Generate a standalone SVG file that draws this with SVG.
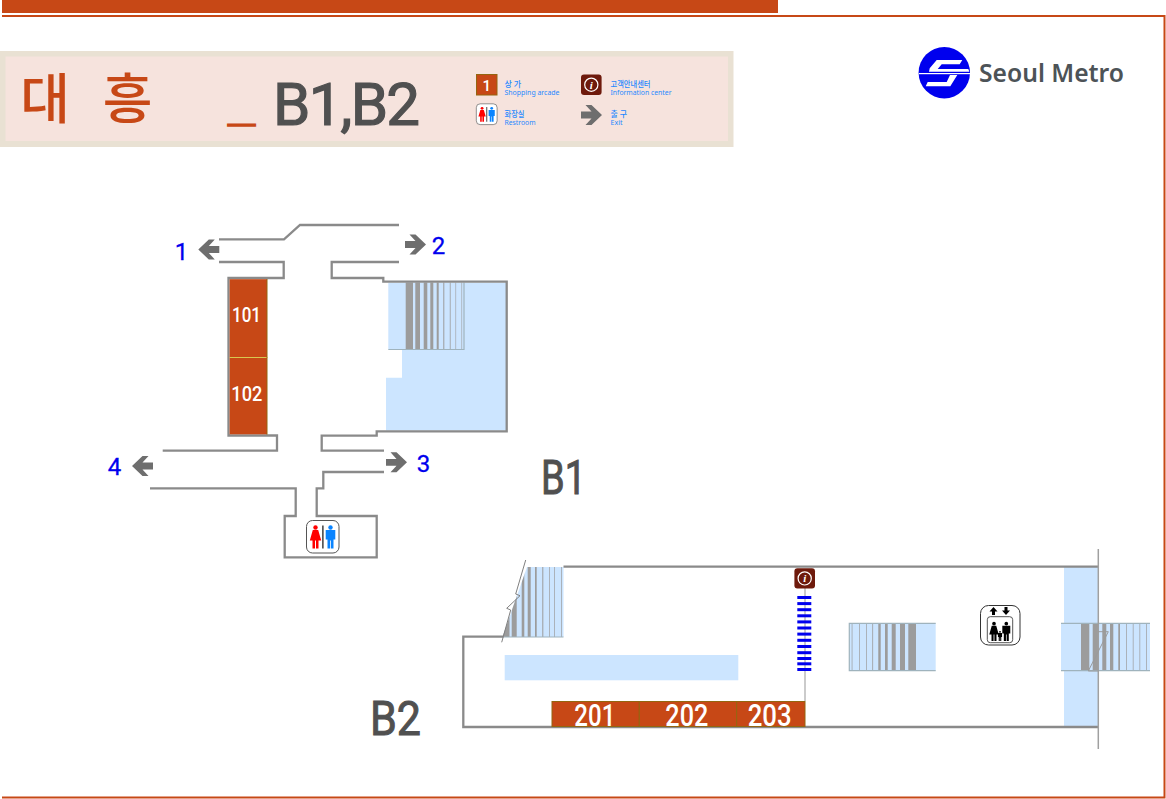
<svg xmlns="http://www.w3.org/2000/svg" width="1166" height="799" viewBox="0 0 1166 799">
<style>
.wall{fill:none;stroke:#8a8a8a;stroke-width:2.300}
.thin{fill:none;stroke:#9a9a9a;stroke-width:1}
.blue{fill:#cce5ff}
.bar{fill:#9c9c9c}
.edge{fill:none;stroke:#9fb3bd;stroke-width:1.200}
.shop{fill:#c74816;stroke:#94650f;stroke-width:1}
.shoptext{font-family:Roboto,"Liberation Sans",sans-serif;font-weight:500;fill:#fff;text-anchor:middle}
.num{font-family:Roboto,"Liberation Sans",sans-serif;fill:#0000ee;stroke:#0000ee;stroke-width:.3;font-size:24px;text-anchor:middle}
.floor{font-family:Roboto,"Liberation Sans",sans-serif;fill:#505050;stroke:#505050;stroke-width:1;font-size:48px}
.leg{font-family:"Noto Sans","Noto Sans CJK KR",sans-serif;fill:#1e88ff;font-size:7px}
.legk{font-family:"Noto Sans CJK KR",sans-serif;fill:#1e88ff;font-size:8px;font-weight:500}
.arrow{fill:#6e6e6e}
</style>
<defs>
<g id="woman"><circle cx="0" cy="2" r="2.200"/><path d="M-2.700 4.600H2.700L5.700 15H3V23H.5V15H-.5V23H-3V15H-5.700Z"/></g>
<g id="man"><circle cx="0" cy="2" r="2.200"/><path d="M-4.800 4.600H4.800V14H3V23H.4V15H-.4V23H-3V14H-4.800Z"/></g>
<g id="wc"><rect x=".5" y=".5" width="32.500" height="32.500" rx="6" fill="#fff" stroke="#555" stroke-width="1"/><use href="#woman" x="9.500" y="5.500" fill="#ff0000"/><use href="#man" x="24.500" y="5.500" fill="#0a84ff"/><rect x="16.300" y="5.500" width="1.200" height="23" fill="#111"/></g>
<g id="info"><rect x="0" y="0" width="20.600" height="20.400" rx="3" fill="#6e1a0c"/><circle cx="10.300" cy="10.200" r="6.600" fill="none" stroke="#fff" stroke-width="1.200"/><text x="10.300" y="14" font-family="Liberation Serif,serif" font-style="italic" font-weight="bold" font-size="11" fill="#fff" text-anchor="middle">i</text></g>
<path id="arrR" d="M0 -3.400H10.500L4.500 -10H10.500L21 0L10.500 10H4.500L10.500 3.400H0Z"/>
<clipPath id="leftStair"><path d="M527 567H563.500V637H502.500Z"/></clipPath>
</defs>

<g id="frame">
<rect x="2" y="0" width="776" height="13" fill="#c74816"/>
<path d="M2 16H1164.500V797.500H2" fill="none" stroke="#c74816" stroke-width="2"/>
</g>

<g id="title">
<rect x="0" y="51" width="733.500" height="96" fill="#e9e1d3"/>
<rect x="5.500" y="56.500" width="722.500" height="84.500" fill="#f6e3dd"/>
<text x="45" y="119" font-family="Noto Sans CJK KR,sans-serif" font-weight="500" font-size="54" fill="#c74816" text-anchor="middle">대</text>
<text x="127.500" y="119" font-family="Noto Sans CJK KR,sans-serif" font-weight="500" font-size="54" fill="#c74816" text-anchor="middle">흥</text>
<text x="228.300" y="120" font-family="Liberation Sans,sans-serif" font-size="48" font-weight="bold" fill="#c74816" stroke="#c74816" stroke-width="1.500" textLength="26.700" lengthAdjust="spacingAndGlyphs">_</text>
<text x="273" y="125" font-family="Roboto,Liberation Sans,sans-serif" font-size="60" fill="#505050" stroke="#505050" stroke-width="1.200" textLength="147" lengthAdjust="spacing">B1,B2</text>
</g>

<g id="legend">
<rect class="shop" x="476.500" y="74.500" width="20.500" height="20.500"/>
<text class="shoptext" x="486.700" y="90.500" font-size="15">1</text>
<text class="legk" x="504.500" y="86.500">상 가</text>
<text class="leg" x="504.500" y="94.500" textLength="55" lengthAdjust="spacingAndGlyphs">Shopping arcade</text>
<use href="#wc" transform="translate(476 103.500) scale(.64)"/>
<text class="legk" x="504.500" y="116.500" textLength="20" lengthAdjust="spacingAndGlyphs">화장실</text>
<text class="leg" x="504.500" y="125" textLength="31" lengthAdjust="spacingAndGlyphs">Restroom</text>
<use href="#info" x="581" y="74.500"/>
<text class="legk" x="610.500" y="86.500" textLength="40" lengthAdjust="spacingAndGlyphs">고객안내센터</text>
<text class="leg" x="610.500" y="94.500" textLength="61" lengthAdjust="spacingAndGlyphs">Information center</text>
<use href="#arrR" class="arrow" x="581" y="115"/>
<text class="legk" x="610.500" y="116.500">출 구</text>
<text class="leg" x="610.500" y="125" textLength="12" lengthAdjust="spacingAndGlyphs">Exit</text>
</g>

<g id="logo">
<circle cx="944.300" cy="72.700" r="25.700" fill="#0000ee"/>
<path d="M936.700 60H962.300L959.700 64.300H941.700L937.700 69H968.300L969.300 71.700H929L929.700 68.300Z" fill="#fff"/>
<rect x="919" y="73" width="51" height="1.200" fill="#fff"/>
<path d="M950 75H957.300L950.300 86.300H925.700L927.700 82H946.700Z" fill="#fff"/>
<text x="979" y="82" font-family="Noto Sans,sans-serif" font-weight="600" font-size="25" fill="#4d5357" textLength="145" lengthAdjust="spacingAndGlyphs">Seoul Metro</text>
</g>

<g id="floor-b1">
<path class="blue" d="M388.300 282.700H506V430.500H386V377.700H402V349.300H388.300Z"/>
<g id="b1-stairs">
<rect class="bar" x="405.700" y="282.500" width="7.300" height="67"/>
<rect class="bar" x="415.300" y="282.500" width="4.700" height="67"/>
<rect class="bar" x="423.700" y="282.500" width="3.600" height="67"/>
<rect class="bar" x="430.300" y="282.500" width="3" height="67"/>
<rect class="bar" x="436.700" y="282.500" width="2" height="67"/>
<rect class="bar" x="443.300" y="282.500" width="1" height="67"/>
<rect class="bar" x="449.800" y="282.500" width=".8" height="67"/>
<rect class="bar" x="455.500" y="282.500" width=".6" height="67"/>
<rect class="bar" x="461.500" y="282.500" width=".6" height="67"/>
<path class="edge" d="M388.300 349.500H464V282.500"/>
</g>
<g id="b1-walls">
<path class="wall" d="M219 239.300H284L300 225H399"/>
<path class="wall" d="M219 262H283.700V278H228.500V435.500H277V450.700H162.700"/>
<path class="wall" d="M399 262H331.700V278H383.300V281.700H506.700V431.300H376.700V435.700H321.700V450.700H384"/>
<path class="wall" d="M384 472H323.300V488.300H316.700V516H376.700V557.300H284.700V516H295.700V488.300H150"/>
</g>
<g id="shop-101"><rect x="229.600" y="279.200" width="37.400" height="78.300" fill="#c74816"/><text class="shoptext" x="246.500" y="322" font-size="21" textLength="29" lengthAdjust="spacingAndGlyphs">101</text></g>
<g id="shop-102"><rect x="229.600" y="357.500" width="37.400" height="76.800" fill="#c74816"/><text class="shoptext" x="246.800" y="401" font-size="21" textLength="31" lengthAdjust="spacingAndGlyphs">102</text></g>
<path d="M229.600 357.500H267.500" stroke="#d8c850" stroke-width="1"/>
<path d="M267 279V434.500" stroke="#94650f" stroke-width="1"/>
<g id="exit-1"><use href="#arrR" class="arrow" transform="translate(219.300 249.500) scale(-1 1)"/><text class="num" x="181.500" y="260">1</text></g>
<g id="exit-2"><use href="#arrR" class="arrow" x="405" y="244.500"/><text class="num" x="438.500" y="254">2</text></g>
<g id="exit-3"><use href="#arrR" class="arrow" x="386" y="462.300"/><text class="num" x="423.500" y="472">3</text></g>
<g id="exit-4"><use href="#arrR" class="arrow" transform="translate(153 466) scale(-1 1)"/><text class="num" x="114.500" y="475">4</text></g>
<use id="b1-wc" href="#wc" x="306" y="520"/>
<text class="floor" x="541" y="494" textLength="45" lengthAdjust="spacingAndGlyphs">B1</text>
</g>

<g id="floor-b2">
<rect class="blue" x="504.700" y="655" width="233.600" height="25.300"/>
<rect class="blue" x="1064" y="567" width="34.300" height="160"/>
<g id="b2-stairs-left">
<path class="blue" d="M527 567H563.500V637H502.500Z"/>
<g clip-path="url(#leftStair)">
<rect class="bar" x="500" y="567" width="9.500" height="70"/>
<rect class="bar" x="511.700" y="567" width="5" height="70"/>
<rect class="bar" x="521.700" y="567" width="2.600" height="70"/>
<rect class="bar" x="527.700" y="567" width="3" height="70"/>
<rect class="bar" x="535" y="567" width="1.700" height="70"/>
<rect class="bar" x="542.300" y="567" width="1" height="70"/>
<rect class="bar" x="549" y="567" width=".7" height="70"/>
<rect class="bar" x="554.300" y="567" width=".7" height="70"/>
<rect class="bar" x="561" y="567" width=".7" height="70"/>
</g>
<path class="edge" d="M502.500 637H563.500"/>
</g>
<g id="b2-stairs-mid">
<rect class="blue" x="849.300" y="623.300" width="86.400" height="47.400"/>
<rect class="bar" x="908.300" y="623.300" width="7.700" height="47.400"/>
<rect class="bar" x="900" y="623.300" width="5" height="47.400"/>
<rect class="bar" x="891.700" y="623.300" width="4" height="47.400"/>
<rect class="bar" x="885" y="623.300" width="2.700" height="47.400"/>
<rect class="bar" x="878.300" y="623.300" width="2.400" height="47.400"/>
<rect class="bar" x="872.300" y="623.300" width=".8" height="47.400"/>
<rect class="bar" x="866" y="623.300" width=".7" height="47.400"/>
<rect class="bar" x="859" y="623.300" width=".7" height="47.400"/>
<rect class="bar" x="851.700" y="623.300" width=".7" height="47.400"/>
<path class="edge" d="M935.700 623.300H849.300V670.700H935.700"/>
</g>
<g id="b2-stairs-right">
<rect class="blue" x="1061" y="623.300" width="89" height="47.400"/>
<rect class="bar" x="1081" y="623.300" width="8.300" height="47.400"/>
<rect class="bar" x="1092.700" y="623.300" width="5.600" height="47.400"/>
<rect class="bar" x="1102.300" y="623.300" width="4" height="47.400"/>
<rect class="bar" x="1110" y="623.300" width="3.300" height="47.400"/>
<rect class="bar" x="1118.300" y="623.300" width="1.700" height="47.400"/>
<rect class="bar" x="1126" y="623.300" width=".7" height="47.400"/>
<rect class="bar" x="1132.800" y="623.300" width=".7" height="47.400"/>
<rect class="bar" x="1139.500" y="623.300" width=".7" height="47.400"/>
<rect class="bar" x="1146" y="623.300" width=".7" height="47.400"/>
<path class="edge" d="M1061 623.300H1150M1061 670.700H1150"/>
</g>
<g id="b2-walls">
<path class="wall" d="M563.500 566.700H1098"/>
<path class="wall" d="M503.300 636.700H463.300V727H1098"/>
<path d="M1098.300 549V749" fill="none" stroke="#a0a0a0" stroke-width="1.500"/>
<path d="M525.700 560L515.700 594L520 595.700L506.700 608.300L510.700 610L501.700 642.300" fill="none" stroke="#808080" stroke-width="1"/>
<path class="thin" d="M1098.300 631.700H1108.300L1088.300 671H1098.300"/>
<path d="M805 588V701" stroke="#a8a8a8" stroke-width="1.200"/>
</g>
<g id="shop-201"><rect class="shop" x="552" y="701.500" width="87.300" height="25"/><text class="shoptext" x="594.800" y="725.500" font-size="31" textLength="41" lengthAdjust="spacingAndGlyphs">201</text></g>
<g id="shop-202"><rect class="shop" x="639.300" y="701.500" width="97.400" height="25"/><text class="shoptext" x="686.800" y="725.500" font-size="31" textLength="43" lengthAdjust="spacingAndGlyphs">202</text></g>
<g id="shop-203"><rect class="shop" x="736.700" y="701.500" width="68.300" height="25"/><text class="shoptext" x="769.700" y="725.500" font-size="31" textLength="44" lengthAdjust="spacingAndGlyphs">203</text></g>
<g id="escalator" fill="#0000ee">
<rect x="797.300" y="596" width="14" height="3"/>
<rect x="797.300" y="602.100" width="14" height="3"/>
<rect x="797.300" y="608.200" width="14" height="3"/>
<rect x="797.300" y="614.300" width="14" height="3"/>
<rect x="797.300" y="620.400" width="14" height="3"/>
<rect x="797.300" y="626.500" width="14" height="3"/>
<rect x="797.300" y="632.600" width="14" height="3"/>
<rect x="797.300" y="638.800" width="14" height="3"/>
<rect x="797.300" y="645" width="14" height="3"/>
<rect x="797.300" y="651.200" width="14" height="3"/>
<rect x="797.300" y="657" width="14" height="3"/>
<rect x="797.300" y="662.300" width="14" height="3"/>
<rect x="797.300" y="668" width="14" height="3"/>
</g>
<use id="b2-info" href="#info" x="794.400" y="568.200"/>
<g id="elevator">
<rect x="980.500" y="605.500" width="39.500" height="39.500" rx="8" fill="#fff" stroke="#333" stroke-width="1"/>
<rect x="987.300" y="616.700" width="25.400" height="26" rx="3" fill="#fff" stroke="#555" stroke-width="1"/>
<path d="M993.500 607L997.500 611.500H995V615H992V611.500H989.500Z" fill="#000"/>
<path d="M1006 615L1002 610.500H1004.500V607H1007.500V610.500H1010Z" fill="#000"/>
<use href="#woman" transform="translate(994 622) scale(.83)" fill="#000"/>
<use href="#man" transform="translate(1006.300 622) scale(.83)" fill="#000"/>
<use href="#man" transform="translate(1000 631) scale(.43)" fill="#000"/>
</g>
<text class="floor" x="370" y="735" textLength="51" lengthAdjust="spacingAndGlyphs">B2</text>
</g>
</svg>
